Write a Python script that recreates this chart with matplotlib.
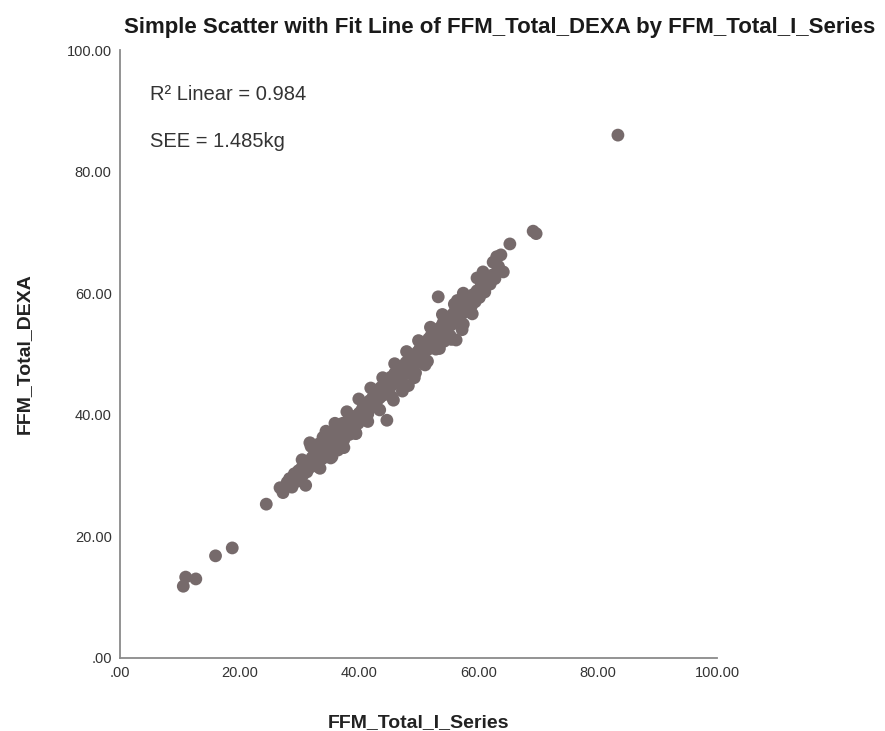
import matplotlib.pyplot as plt

plt.rcParams['font.family'] = ['Liberation Sans', 'DejaVu Sans']

# FFM (kg) by I-Series and by DEXA
ffm_iseries = [
    10.6, 11.0, 12.7, 16.0, 18.8, 24.5, 26.8, 27.3, 28.0, 28.4, 28.8, 29.2,
    29.5, 29.9, 30.1, 30.4, 30.6, 30.9, 31.1, 31.3, 31.5, 31.8, 31.9, 32.2,
    32.4, 32.6, 32.8, 33.0, 33.1, 33.3, 33.5, 33.7, 33.9, 34.0, 34.2, 34.4,
    34.6, 34.8, 35.0, 35.1, 35.3, 35.5, 35.7, 35.9, 36.1, 36.3, 36.5, 36.7,
    36.9, 37.1, 37.3, 37.5, 37.7, 37.9, 38.1, 38.3, 38.5, 38.7, 38.9, 39.1,
    39.3, 39.5, 39.7, 39.9, 40.1, 40.3, 40.6, 40.8, 41.0, 41.3, 41.5, 41.8,
    42.0, 42.3, 42.5, 42.8, 43.0, 43.2, 43.5, 43.7, 44.0, 44.2, 44.5, 44.7,
    44.9, 45.1, 45.4, 45.6, 45.8, 46.0, 46.2, 46.4, 46.7, 46.9, 47.1, 47.3,
    47.5, 47.7, 47.9, 48.1, 48.3, 48.5, 48.7, 48.9, 49.1, 49.3, 49.5, 49.7,
    49.9, 50.1, 50.3, 50.5, 50.7, 50.9, 51.1, 51.3, 51.5, 51.7, 51.9, 52.1,
    52.3, 52.5, 52.7, 52.9, 53.1, 53.3, 53.5, 53.7, 53.9, 54.1, 54.3, 54.5,
    54.7, 54.9, 55.1, 55.3, 55.5, 55.7, 55.9, 56.1, 56.3, 56.5, 56.5, 56.8,
    57.0, 57.3, 57.5, 57.5, 57.8, 58.0, 58.3, 58.6, 58.9, 59.2, 59.5, 59.8,
    59.8, 60.2, 60.5, 60.8, 61.1, 61.5, 62.0, 62.4, 62.5, 62.8, 63.1, 63.3,
    63.4, 63.8, 64.2, 65.3, 69.2, 69.7, 83.4,
    30.5, 32.0, 34.5, 36.0, 38.0, 40.0, 42.0, 44.0, 46.0, 48.0, 50.0, 52.0,
    54.0, 56.0, 33.5, 35.5, 37.5, 39.5, 41.5, 43.5, 45.5, 47.5, 49.5, 51.5,
    53.5, 55.5, 57.5, 59.0,
]
ffm_dexa = [
    11.8, 13.3, 13.0, 16.8, 18.1, 25.3, 28.0, 27.2, 28.9, 29.5, 28.1, 30.3,
    29.0, 30.8, 29.6, 31.2, 30.1, 31.8, 28.4, 30.6, 32.4, 35.4, 31.4, 33.0,
    31.9, 34.1, 32.6, 33.8, 31.5, 35.2, 33.1, 34.6, 32.8, 36.3, 34.0, 35.5,
    33.6, 35.0, 36.9, 34.3, 32.9, 35.8, 34.8, 37.4, 35.5, 36.6, 34.2, 37.8,
    36.0, 37.1, 38.6, 35.9, 37.5, 36.6, 38.9, 37.9, 36.8, 38.4, 39.5, 37.7,
    38.8, 36.9, 39.9, 38.6, 40.3, 39.4, 41.0, 39.8, 40.6, 41.9, 40.1, 42.3,
    41.2, 42.8, 41.6, 43.5, 42.2, 44.1, 42.8, 44.5, 43.2, 45.0, 43.9, 39.1,
    45.6, 44.3, 46.2, 44.9, 42.4, 46.8, 45.4, 47.3, 45.9, 47.7, 46.2, 43.9,
    48.1, 46.7, 48.6, 47.2, 44.8, 49.0, 47.8, 49.5, 48.1, 46.1, 50.0, 48.6,
    50.4, 49.0, 51.0, 49.5, 51.5, 50.1, 48.2, 52.0, 50.7, 52.5, 51.1, 53.0,
    51.6, 53.4, 52.0, 50.8, 54.0, 59.4, 52.8, 54.4, 53.3, 55.1, 52.1, 53.8,
    55.5, 54.3, 56.0, 53.0, 54.8, 56.5, 55.2, 57.0, 52.3, 55.7, 58.8, 57.6,
    56.2, 54.0, 58.0, 60.0, 56.9, 58.5, 57.5, 59.2, 58.0, 59.8, 58.6, 60.4,
    62.5, 59.3, 61.2, 63.5, 60.2, 62.0, 61.5, 63.0, 65.1, 62.4, 66.0, 63.8,
    64.4, 66.3, 63.5, 68.1, 70.2, 69.8, 86.0,
    32.6, 34.8, 37.3, 38.6, 40.5, 42.6, 44.4, 46.1, 48.4, 50.4, 52.2, 54.4,
    56.5, 58.2, 31.2, 33.1, 34.6, 37.0, 38.9, 40.8, 43.0, 45.0, 46.9, 48.8,
    50.9, 52.4, 54.9, 56.6,
]

ticks = [0, 20, 40, 60, 80, 100]
tick_labels = ['.00', '20.00', '40.00', '60.00', '80.00', '100.00']

fig = plt.figure(figsize=(8.85, 7.31), dpi=100)
ax = fig.add_axes([0.1356, 0.0999, 0.6746, 0.8317])

ax.scatter(ffm_iseries, ffm_dexa, s=85, color='#766a6b', edgecolors='none', zorder=3)

ax.set_xlim(0, 100)
ax.set_ylim(0, 100)
ax.set_xticks(ticks)
ax.set_xticklabels(tick_labels)
ax.set_yticks(ticks)
ax.set_yticklabels(tick_labels)
ax.tick_params(length=0, labelsize=10.5, colors='#333333', pad=6)

for side in ['top', 'right']:
    ax.spines[side].set_visible(False)
for side in ['left', 'bottom']:
    ax.spines[side].set_color('#8a8a8a')
    ax.spines[side].set_linewidth(1.3)

ax.set_xlabel('FFM_Total_I_Series', fontsize=14, fontweight='bold', color='#222222', labelpad=24)
ax.set_ylabel('FFM_Total_DEXA', fontsize=14, fontweight='bold', color='#222222', labelpad=24)

fig.text(0.565, 0.962, 'Simple Scatter with Fit Line of FFM_Total_DEXA by FFM_Total_I_Series',
         ha='center', va='center', fontsize=16, fontweight='bold', color='#1a1a1a')

ax.text(0.05, 0.926, 'R² Linear = 0.984', transform=ax.transAxes, fontsize=14.5,
        color='#333333', va='center')
ax.text(0.05, 0.850, 'SEE = 1.485kg', transform=ax.transAxes, fontsize=14.5,
        color='#333333', va='center')

fig.savefig('out.png', dpi=100)
